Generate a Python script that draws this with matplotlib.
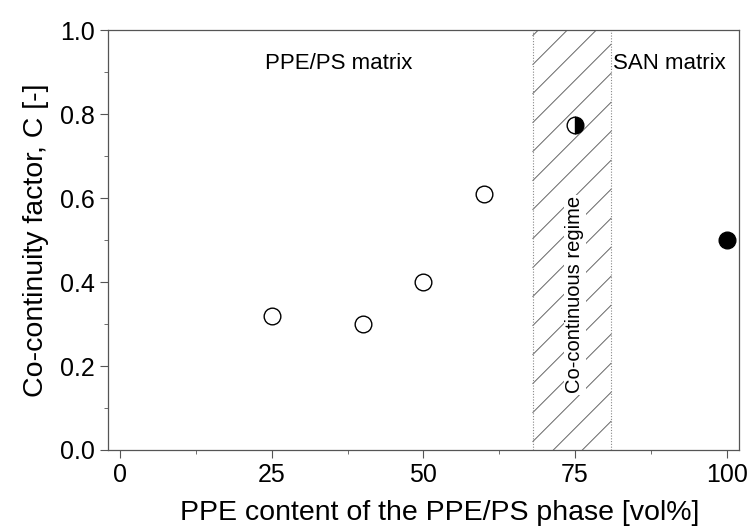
import numpy as np
import matplotlib
matplotlib.use("Agg")
import matplotlib.pyplot as plt
from matplotlib.patches import Rectangle
from matplotlib.collections import LineCollection
from matplotlib.ticker import MultipleLocator

plt.rcParams['font.family'] = ['Liberation Sans', 'DejaVu Sans']

# PPE content [vol%] and co-continuity factor C
open_x = [25, 40, 50, 60]
open_c = [0.32, 0.30, 0.40, 0.61]
half_x = [75]
half_c = [0.775]
full_x = [100]
full_c = [0.50]

# co-continuous window [vol%]
regime_lo, regime_hi = 68, 81

fig = plt.figure(figsize=(7.5, 5.3), dpi=100)
ax = fig.add_axes([0.144, 0.151, 0.841, 0.792])
ax.set_xlim(-2, 102)
ax.set_ylim(0, 1)

# hatched band, drawn as clipped diagonal lines
fig.canvas.draw()
(dx0, dy0), (dx1, dy1) = ax.transData.transform([(regime_lo, 0), (regime_hi, 1)])
step = 29.0
segs = []
for c in np.arange(-(dx1 - dx0), dy1 - dy0 + step, step):
    p = np.array([(dx0, dy0 + c), (dx1, dy0 + c + (dx1 - dx0))])
    segs.append(ax.transData.inverted().transform(p))
band = Rectangle((regime_lo, 0), regime_hi - regime_lo, 1, fill=False, lw=0,
                 transform=ax.transData)
ax.add_patch(band)
hatch = LineCollection(segs, colors='#666666', linewidths=0.7, zorder=1)
hatch.set_clip_path(band)
ax.add_collection(hatch)
for xv in (regime_lo, regime_hi):
    ax.axvline(xv, color='#888888', lw=0.8, ls=(0, (1, 1.5)), zorder=1)

ms = 12
ax.plot(open_x, open_c, 'o', ms=ms, mfc='white', mec='black', mew=1.0, zorder=3)
ax.plot(half_x, half_c, 'o', ms=ms, fillstyle='right', mfc='black',
        mfcalt='white', mec='black', mew=1.0, zorder=3)
ax.plot(full_x, full_c, 'o', ms=ms, mfc='black', mec='black', zorder=3)

ax.text(36.0, 0.92, 'PPE/PS matrix', fontsize=16, ha='center', va='center')
ax.text(90.5, 0.92, 'SAN matrix', fontsize=16, ha='center', va='center')
ax.text(75, 0.37, 'Co-continuous regime', fontsize=14.5, rotation=90,
        ha='center', va='center', zorder=2,
        bbox=dict(facecolor='white', edgecolor='none', pad=1))

ax.set_xlabel('PPE content of the PPE/PS phase [vol%]', fontsize=20.5)
ax.xaxis.set_label_coords(0.526, -0.118)
ax.set_ylabel('Co-continuity factor, C [-]', fontsize=20.5, labelpad=8)

ax.xaxis.set_major_locator(MultipleLocator(25))
ax.xaxis.set_minor_locator(MultipleLocator(12.5))
ax.yaxis.set_major_locator(MultipleLocator(0.2))
ax.yaxis.set_minor_locator(MultipleLocator(0.1))
ax.yaxis.set_major_formatter(plt.FormatStrFormatter('%.1f'))
ax.tick_params(which='both', direction='out', labelsize=18, color='#555555')
ax.tick_params(which='major', length=6)
ax.tick_params(which='minor', length=3)
for s in ax.spines.values():
    s.set_color('#555555')
    s.set_linewidth(0.9)

fig.savefig('out.png', dpi=100)
